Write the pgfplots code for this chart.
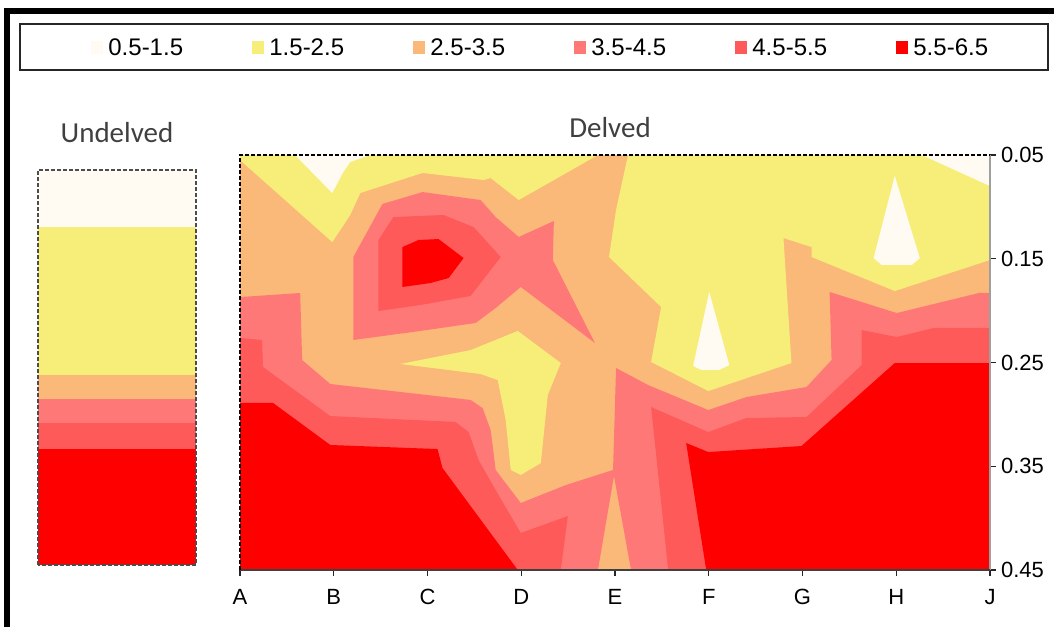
\documentclass[border=0pt]{standalone}
\usepackage{pgfplots}
\pgfplotsset{compat=1.18}
\usepackage{fontspec}
\setmainfont{Liberation Sans}
\newfontfamily\titlefont{Carlito}

% value classes
\definecolor{lvA}{HTML}{FFFBF2} % 0.5-1.5
\definecolor{lvB}{HTML}{F7EE7A} % 1.5-2.5
\definecolor{lvC}{HTML}{FAB978} % 2.5-3.5
\definecolor{lvD}{HTML}{FF7878} % 3.5-4.5
\definecolor{lvE}{HTML}{FF5A5A} % 4.5-5.5
\definecolor{lvF}{HTML}{FF0000} % 5.5-6.5
\definecolor{titlegray}{HTML}{404040}

\pgfplotsset{zone/.style={draw=none, fill=#1, forget plot}}

\begin{document}
\begin{tikzpicture}
\path[use as bounding box] (0,0) rectangle (527pt,313.5pt);

% ---------- undelved profile ----------
\begin{axis}[
  name=undelved, at={(19pt,31pt)}, anchor=south west,
  width=79pt, height=197.5pt, scale only axis,
  xmin=0, xmax=1, ymin=0.05, ymax=0.45, y dir=reverse,
  axis line style={draw=none}, xtick=\empty, ytick=\empty, clip=false,
]
\addplot[zone=lvA] coordinates {(0,0.05)   (1,0.05)   (1,0.1077) (0,0.1077)} -- cycle;
\addplot[zone=lvB] coordinates {(0,0.1077) (1,0.1077) (1,0.2576) (0,0.2576)} -- cycle;
\addplot[zone=lvC] coordinates {(0,0.2576) (1,0.2576) (1,0.2820) (0,0.2820)} -- cycle;
\addplot[zone=lvD] coordinates {(0,0.2820) (1,0.2820) (1,0.3063) (0,0.3063)} -- cycle;
\addplot[zone=lvE] coordinates {(0,0.3063) (1,0.3063) (1,0.3325) (0,0.3325)} -- cycle;
\addplot[zone=lvF] coordinates {(0,0.3325) (1,0.3325) (1,0.45)   (0,0.45)} -- cycle;
\end{axis}

% ---------- delved transect ----------
\begin{axis}[
  name=delved, at={(120pt,28.5pt)}, anchor=south west,
  width=375pt, height=207.5pt, scale only axis,
  xmin=0, xmax=8, ymin=0.05, ymax=0.45, y dir=reverse,
  clip=false,
  axis line style={draw=none},
  xtick={0,1,2,3,4,5,6,7,8}, xticklabels={A,B,C,D,E,F,G,H,J},
  ytick={0.05,0.15,0.25,0.35,0.45}, yticklabels={0.05,0.15,0.25,0.35,0.45},
  xtick pos=left, ytick pos=right, yticklabel pos=right,
  tick align=outside, major tick length=3pt,
  tick style={black!85, line width=0.6pt},
  tick label style={font=\fontsize{11}{13}\selectfont, text=black},
  xticklabel style={yshift=-3pt},
  yticklabel style={xshift=-1pt},
  legend columns=6,
  legend style={at={(-0.19867,1.26024)}, anchor=west, draw=none, fill=none,
    inner sep=0pt, column sep=0pt, row sep=0pt,
    font=\fontsize{12}{14}\selectfont,
    nodes={inner sep=0pt, text depth=0pt}},
  legend image code/.code={\fill[#1] (0pt,-3.25pt) rectangle (6pt,3.25pt); \path (8.5pt,0pt);},
]
% class 2.5-3.5 as background
\addplot[zone=lvC] coordinates {(0,0.05) (8,0.05) (8,0.45) (0,0.45)} -- cycle;
% class 1.5-2.5
\addplot[zone=lvB] coordinates {(0,0.05) (3.818,0.05) (2.973,0.0934) (2.674,0.0722) (2.599,0.0741)
  (1.947,0.0673) (1.283,0.0866) (1.176,0.1078) (0.984,0.1339) (0,0.0548)} -- cycle;
\addplot[zone=lvB] coordinates {(4.139,0.05) (8,0.05) (8,0.1512) (6.984,0.1811) (6.096,0.1483)
  (6.096,0.1387) (5.797,0.1300) (5.882,0.2505) (4.995,0.2775) (4.385,0.2495) (4.492,0.1965)
  (3.936,0.1483) (4.011,0.1030)} -- cycle;
\addplot[zone=lvB] coordinates {(1.711,0.2514) (2.460,0.2380) (2.963,0.2196) (3.422,0.2505)
  (3.283,0.2813) (3.209,0.3469) (2.995,0.3584) (2.888,0.3536) (2.834,0.3054) (2.749,0.2669)
  (2.567,0.2611)} -- cycle;
% class 0.5-1.5
\addplot[zone=lvA] coordinates {(0.588,0.05) (0.984,0.0866) (1.102,0.0664) (1.176,0.0567) (1.390,0.05)} -- cycle;
\addplot[zone=lvA] coordinates {(5.005,0.1820) (4.834,0.2533) (4.920,0.2572) (5.112,0.2572) (5.219,0.2524)} -- cycle;
\addplot[zone=lvA] coordinates {(6.984,0.0702) (6.759,0.1493) (6.845,0.1560) (7.166,0.1560) (7.251,0.1493)} -- cycle;
\addplot[zone=lvA] coordinates {(7.273,0.05) (8,0.05) (8,0.0799)} -- cycle;
% class 3.5-4.5
\addplot[zone=lvD] coordinates {(1.209,0.1483) (1.519,0.0972) (1.947,0.0857) (2.567,0.0934)
  (2.727,0.1098) (2.973,0.1290) (3.348,0.1136) (3.337,0.1512) (3.786,0.2312) (2.995,0.1772)
  (2.727,0.1975) (2.513,0.2119) (1.925,0.2196) (1.209,0.2283)} -- cycle;
\addplot[zone=lvD] coordinates {(0,0.1869) (0.642,0.1830) (0.663,0.2476) (0.963,0.2707)
  (2.460,0.2861) (2.588,0.2939) (2.674,0.3151) (2.727,0.3536) (2.995,0.3854) (3.476,0.3681)
  (3.979,0.3536) (4.011,0.2553) (4.353,0.2717) (4.995,0.2958) (5.401,0.2833) (6.043,0.2736)
  (6.310,0.2476) (6.289,0.1820) (7.005,0.2023) (7.882,0.1830) (8,0.1830) (8,0.45)
  (4.171,0.45) (3.989,0.3594) (3.818,0.45) (0,0.45)} -- cycle;
% class 4.5-5.5
\addplot[zone=lvE] coordinates {(1.476,0.1319) (1.636,0.1098) (2.171,0.1078) (2.492,0.1194)
  (2.781,0.1483) (2.460,0.1859) (1.925,0.1946) (1.476,0.2004)} -- cycle;
\addplot[zone=lvE] coordinates {(0,0.2264) (0.235,0.2283) (0.246,0.2543) (0.963,0.3016)
  (2.299,0.3073) (2.439,0.3170) (2.545,0.3440) (2.727,0.3729) (2.995,0.4143) (3.497,0.3980)
  (3.422,0.45) (0,0.45)} -- cycle;
\addplot[zone=lvE] coordinates {(4.385,0.2929) (4.995,0.3170) (5.401,0.3035) (6.043,0.3025)
  (6.631,0.2524) (6.631,0.2187) (7.005,0.2254) (7.401,0.2167) (8,0.2167) (8,0.45) (4.567,0.45)} -- cycle;
% class 5.5-6.5
\addplot[zone=lvF] coordinates {(1.733,0.1387) (1.904,0.1319) (2.118,0.1310) (2.385,0.1493)
  (2.225,0.1686) (2.032,0.1734) (1.733,0.1772)} -- cycle;
\addplot[zone=lvF] coordinates {(0,0.2890) (0.353,0.2890) (0.963,0.3295) (2.107,0.3334)
  (2.160,0.3517) (2.963,0.45) (0,0.45)} -- cycle;
\addplot[zone=lvF] coordinates {(4.759,0.3276) (4.995,0.3363) (5.989,0.3305) (6.984,0.2505)
  (8,0.2505) (8,0.45) (4.973,0.45)} -- cycle;

\addlegendimage{fill=lvA, draw=none}\addlegendentry{\makebox[72pt][l]{0.5-1.5}}
\addlegendimage{fill=lvB, draw=none}\addlegendentry{\makebox[72pt][l]{1.5-2.5}}
\addlegendimage{fill=lvC, draw=none}\addlegendentry{\makebox[72pt][l]{2.5-3.5}}
\addlegendimage{fill=lvD, draw=none}\addlegendentry{\makebox[72pt][l]{3.5-4.5}}
\addlegendimage{fill=lvE, draw=none}\addlegendentry{\makebox[72pt][l]{4.5-5.5}}
\addlegendimage{fill=lvF, draw=none}\addlegendentry{5.5-6.5}
\end{axis}

% borders of the two panels
\draw[gray!60!black, line width=0.7pt, dash pattern=on 2pt off 1pt]
  (undelved.south west) rectangle (undelved.north east);
\draw[gray!75, line width=0.7pt] (delved.north east) -- (delved.south east);
\draw[gray!50!black, line width=0.7pt] (delved.south east) -- (delved.south west);
\draw[black, line width=1pt, dash pattern=on 2pt off 1pt]
  (delved.south west) -- (delved.north west) -- (delved.north east);

% panel titles
\node[font=\titlefont\fontsize{14.5}{17}\selectfont, text=titlegray, anchor=base, inner sep=0pt]
  at ([yshift=14pt]undelved.north) {Undelved};
\node[font=\titlefont\fontsize{14.5}{17}\selectfont, text=titlegray, anchor=base, inner sep=0pt]
  at ([xshift=-2.5pt, yshift=8.75pt]delved.north) {Delved};

% legend frame and outer frame
\draw[black!85, line width=0.6pt] (10pt,278.5pt) rectangle (524pt,301.5pt);
\draw[black, line width=2.75pt, line join=miter] (3.5pt,0pt) -- (3.5pt,308pt) -- (530pt,308pt);
\end{tikzpicture}
\end{document}
